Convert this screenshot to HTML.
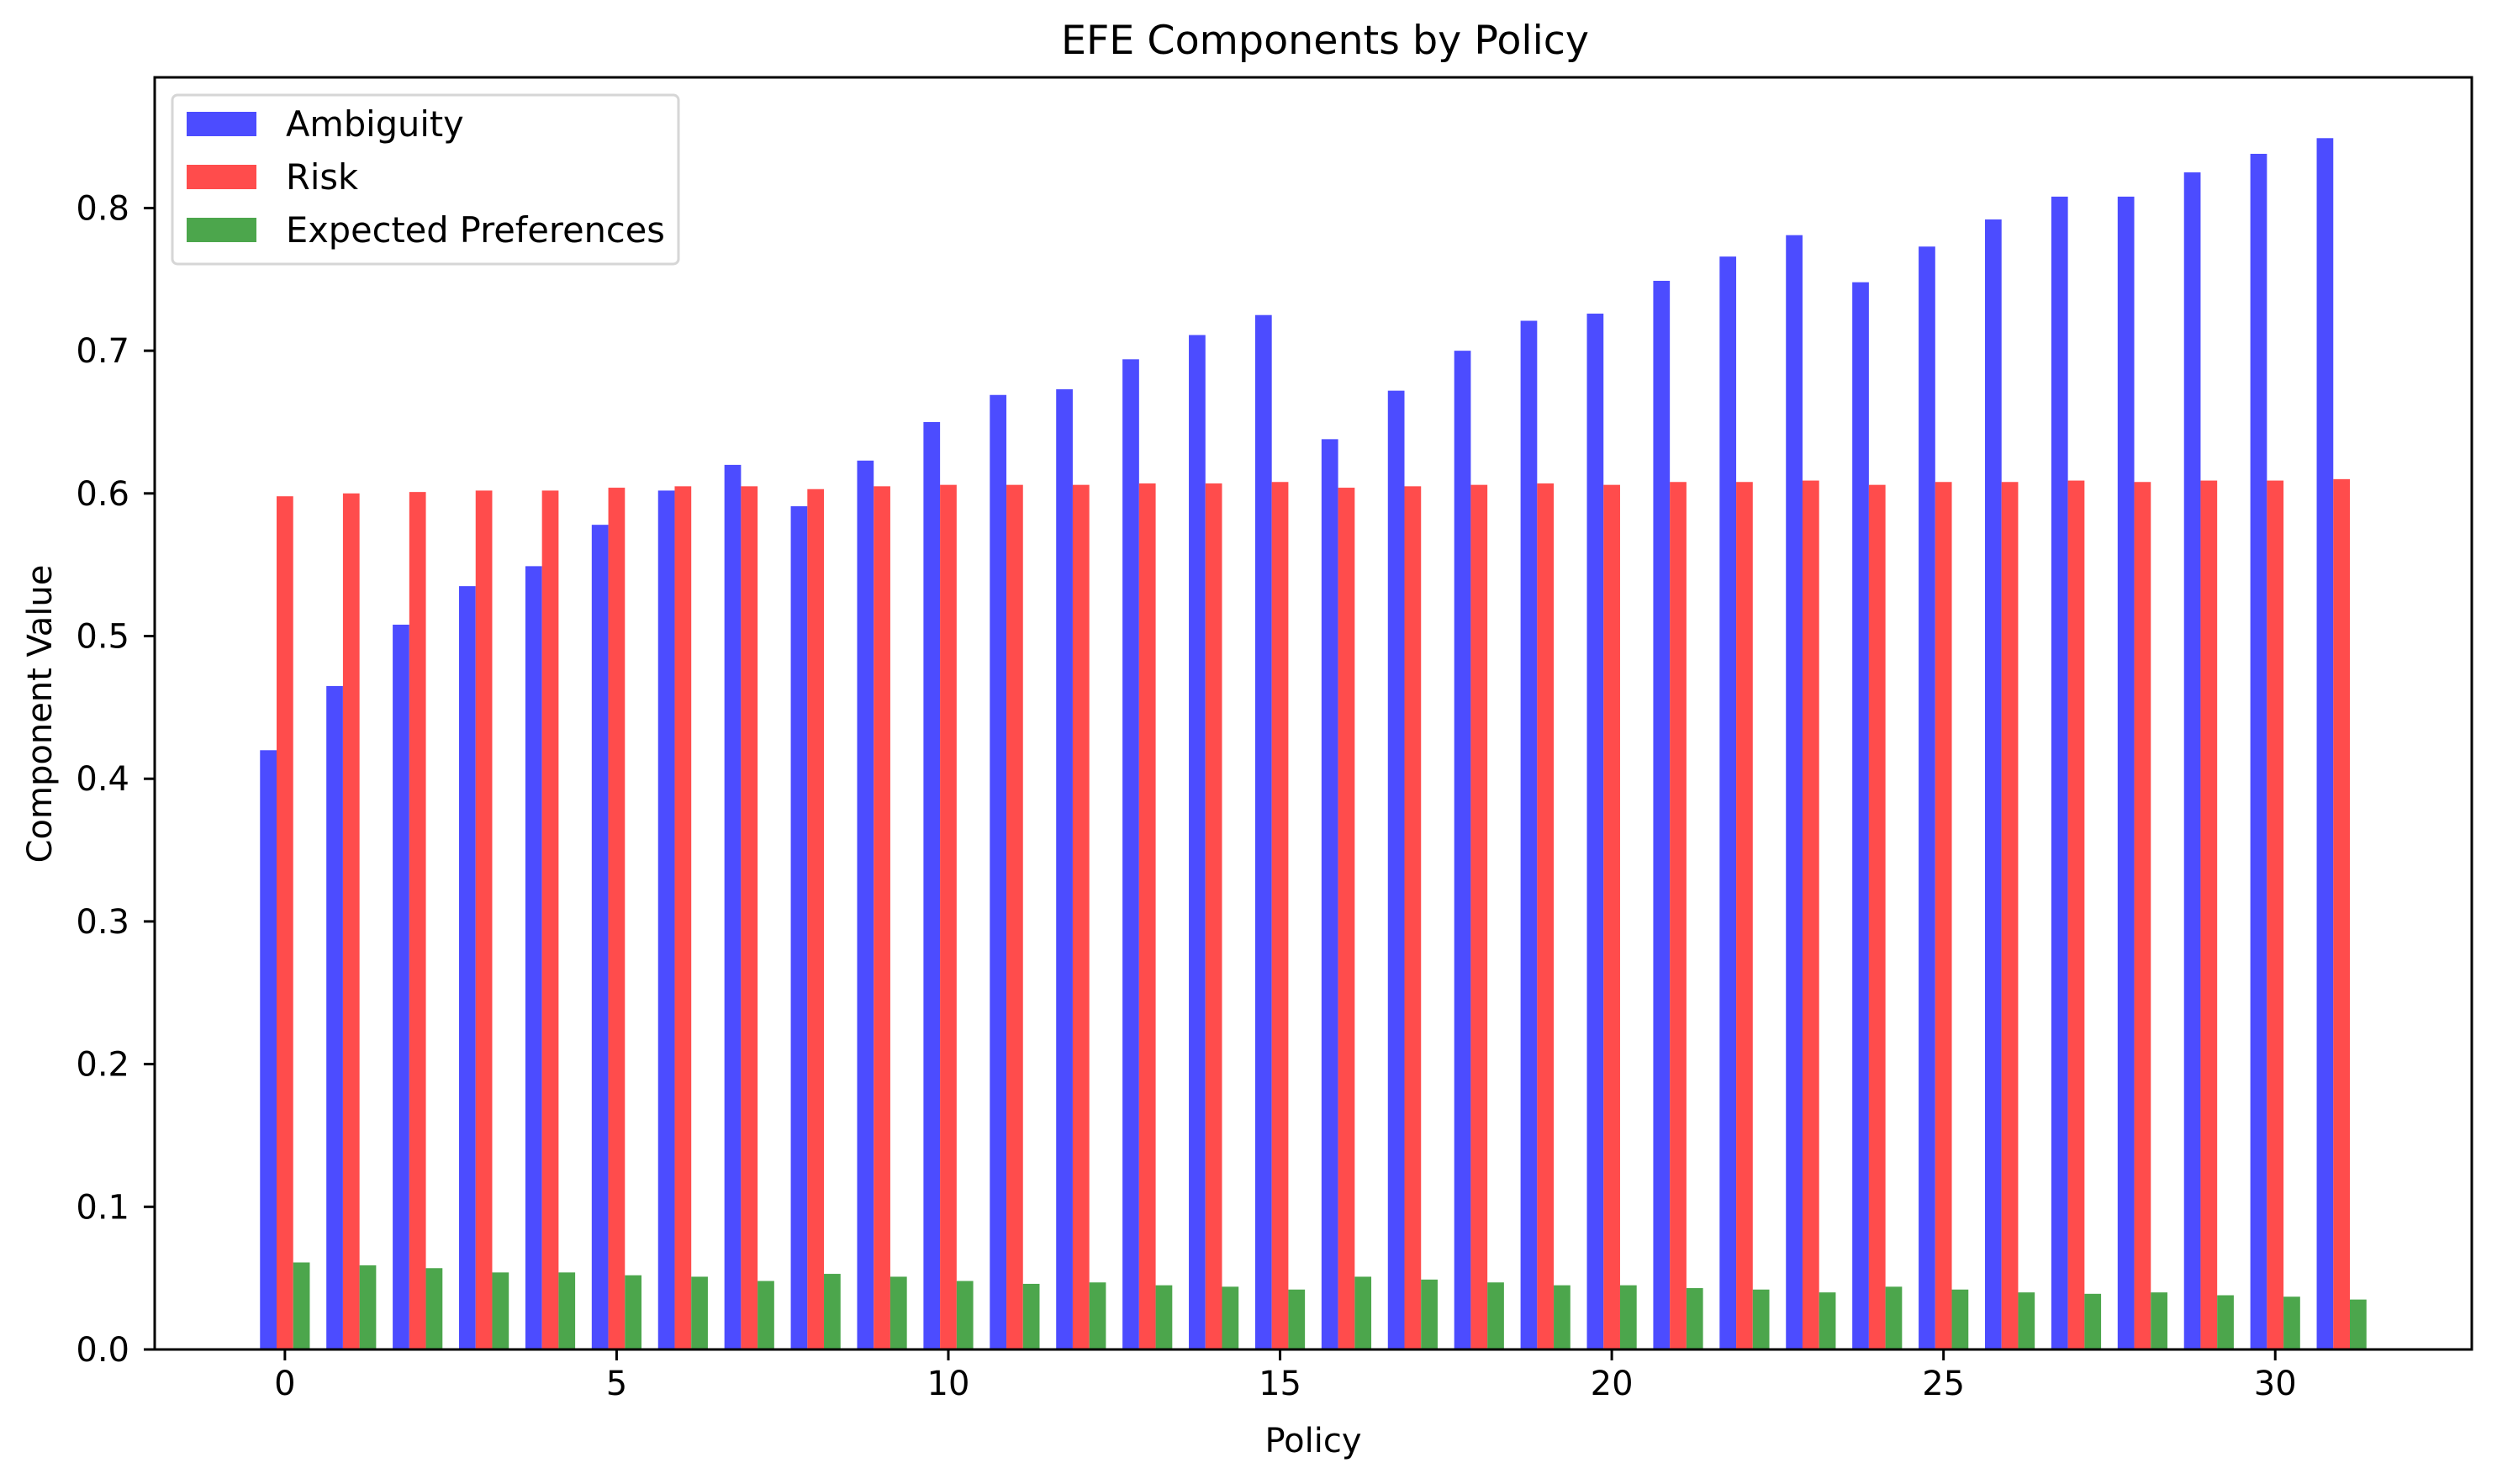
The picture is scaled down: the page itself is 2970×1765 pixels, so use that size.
<!DOCTYPE html>
<html><head><meta charset="utf-8">
<style>
html,body{margin:0;padding:0;background:#fff;}
svg{display:block;font-family:"DejaVu Sans","Liberation Sans",sans-serif;}
</style></head>
<body>
<svg id="chart" width="2970" height="1765" viewBox="0 0 2970 1765" xmlns="http://www.w3.org/2000/svg">
<rect x="0" y="0" width="2970" height="1765" fill="#fff"/>
<g id="bars"></g>
<g id="axes"></g>
<text x="1576" y="64" font-size="47.5" text-anchor="middle">EFE Components by Policy</text>
<text x="1562" y="1727" font-size="40" text-anchor="middle">Policy</text>
<text x="0" y="0" font-size="40" text-anchor="middle" transform="translate(61,849) rotate(-90)">Component Value</text>
<g>
  <rect x="205" y="113" width="602" height="201" rx="6" fill="#fff" fill-opacity="0.8" stroke="#d6d6d6" stroke-width="3"/>
  <rect x="222" y="133" width="83" height="29" fill="#4c4cff"/>
  <text x="340" y="162" font-size="41.5">Ambiguity</text>
  <rect x="222" y="196" width="83" height="29" fill="#ff4c4c"/>
  <text x="340" y="225" font-size="41.5">Risk</text>
  <rect x="222" y="259" width="83" height="29" fill="#4ca64c"/>
  <text x="340" y="288" font-size="41.5">Expected Preferences</text>
</g>
</svg>
<script>
const policies = Array.from({length:32},(_,i)=>i);
const ambiguity = [0.42,0.465,0.508,0.535,0.549,0.578,0.602,0.62,0.591,0.623,0.65,0.669,0.673,0.694,0.711,0.725,0.638,0.672,0.7,0.721,0.726,0.749,0.766,0.781,0.748,0.773,0.792,0.808,0.808,0.825,0.838,0.849];
const risk = [0.598,0.600,0.601,0.602,0.602,0.604,0.605,0.605,0.603,0.605,0.606,0.606,0.606,0.607,0.607,0.608,0.604,0.605,0.606,0.607,0.606,0.608,0.608,0.609,0.606,0.608,0.608,0.609,0.608,0.609,0.609,0.610];
const preferences = [0.061,0.059,0.057,0.054,0.054,0.052,0.051,0.048,0.053,0.051,0.048,0.046,0.047,0.045,0.044,0.042,0.051,0.049,0.047,0.045,0.045,0.043,0.042,0.040,0.044,0.042,0.040,0.039,0.040,0.038,0.037,0.035];
const xTicks = [0,5,10,15,20,25,30];
const yTicks = [0,0.1,0.2,0.3,0.4,0.5,0.6,0.7,0.8];

const NS="http://www.w3.org/2000/svg";
const L=184,R=2940,T=92,B=1605;
const xmin=-1.9625,xmax=32.9625,ymax=0.8916;
const xs=v=>L+(v-xmin)/(xmax-xmin)*(R-L);
const ys=v=>B-v/ymax*(B-T);
const bw=0.25;
function mk(tag,attrs,parent){const e=document.createElementNS(NS,tag);for(const k in attrs)e.setAttribute(k,attrs[k]);parent.appendChild(e);return e;}
const bars=document.getElementById('bars');
const series=[[ambiguity,'#4c4cff',-bw,'ambiguity'],[risk,'#ff4c4c',0,'risk'],[preferences,'#4ca64c',bw,'preferences']];
series.forEach(([vals,col,off,nm])=>{
  vals.forEach((v,i)=>{
    const x0=xs(policies[i]+off-bw/2),x1=xs(policies[i]+off+bw/2);
    const r=mk('rect',{x:x0,y:ys(v),width:x1-x0,height:ys(0)-ys(v),fill:col},bars);
    
    
  });
});
const ax=document.getElementById('axes');
mk('rect',{x:L,y:T,width:R-L,height:B-T,fill:'none',stroke:'#000','stroke-width':3},ax);
xTicks.forEach(t=>{
  const x=xs(t);
  mk('line',{x1:x,x2:x,y1:B,y2:B+13,stroke:'#000','stroke-width':3},ax);
  const tx=mk('text',{x:x,y:B+54,'font-size':40,'text-anchor':'middle'},ax);
  tx.textContent=String(t);
  
  
});
yTicks.forEach(t=>{
  const y=ys(t);
  mk('line',{x1:L-13,x2:L,y1:y,y2:y,stroke:'#000','stroke-width':3},ax);
  const tx=mk('text',{x:154,y:y+14,'font-size':40,'text-anchor':'end'},ax);
  tx.textContent=t.toFixed(1);
  
  
});
</script>
</body></html>
